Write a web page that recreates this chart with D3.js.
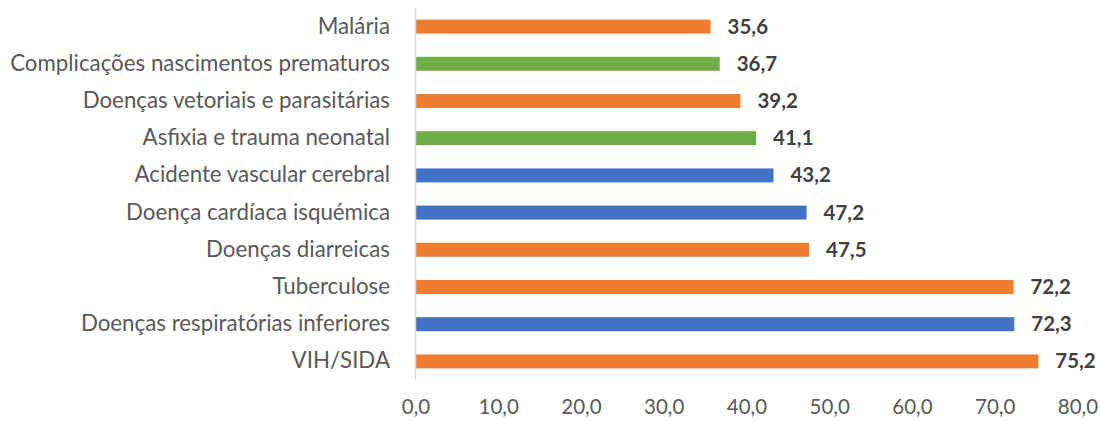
<!DOCTYPE html>
<html>
<head>
<meta charset="utf-8">
<script src="https://cdn.jsdelivr.net/npm/d3@7"></script>
<style>
  body { margin: 0; background: #fff; }
  text { font-family: Lato, "Open Sans", sans-serif; }
</style>
</head>
<body>
<script>
// categories from top to bottom
const causes = ['Malária', 'Complicações nascimentos prematuros', 'Doenças vetoriais e parasitárias',
  'Asfixia e trauma neonatal', 'Acidente vascular cerebral', 'Doença cardíaca isquémica',
  'Doenças diarreicas', 'Tuberculose', 'Doenças respiratórias inferiores', 'VIH/SIDA'];
const values = [35.6, 36.7, 39.2, 41.1, 43.2, 47.2, 47.5, 72.2, 72.3, 75.2];
const groups = ['inf', 'neo', 'inf', 'neo', 'ncd', 'ncd', 'inf', 'inf', 'ncd', 'inf'];
const tickValues = [0, 10, 20, 30, 40, 50, 60, 70, 80];

const colors = { inf: '#ED7D31', neo: '#70AD47', ncd: '#4472C4' };

const width = 1100, height = 421;

const svg = d3.select('body').append('svg')
    .attr('width', width)
    .attr('height', height);

const x = d3.scaleLinear()
    .domain([0, 80])
    .range([416, 1078]);

const y = d3.scaleBand()
    .domain(causes)
    .range([8, 380])
    .paddingInner(0.624)
    .paddingOuter(0.312);

// bars
svg.selectAll('rect')
    .data(causes)
    .enter()
  .append('rect')
    .attr('x', x(0))
    .attr('y', d => y(d))
    .attr('width', (d, i) => x(values[i]) - x(0))
    .attr('height', y.bandwidth())
    .attr('fill', (d, i) => colors[groups[i]]);

// value labels
svg.selectAll('.val')
    .data(causes)
    .enter()
  .append('text')
    .attr('class', 'val')
    .attr('x', (d, i) => x(values[i]) + 17)
    .attr('y', d => y(d) + y.bandwidth() / 2 + 7)
    .style('font-size', '20.5px')
    .style('font-weight', 'bold')
    .style('fill', '#404040')
    .text((d, i) => values[i].toFixed(1).replace('.', ','));

// category labels
svg.selectAll('.cat')
    .data(causes)
    .enter()
  .append('text')
    .attr('class', 'cat')
    .attr('x', 390)
    .attr('y', d => y(d) + y.bandwidth() / 2 + 7)
    .attr('text-anchor', 'end')
    .style('font-size', '22.3px')
    .style('fill', '#595959')
    .text(d => d);

// x tick labels
svg.selectAll('.tick-label')
    .data(tickValues)
    .enter()
  .append('text')
    .attr('class', 'tick-label')
    .attr('x', d => x(d))
    .attr('y', 414)
    .attr('text-anchor', 'middle')
    .style('font-size', '20.5px')
    .style('fill', '#595959')
    .text(d => d.toFixed(1).replace('.', ','));

// vertical axis line
svg.append('line')
    .attr('x1', x(0) - 0.5)
    .attr('x2', x(0) - 0.5)
    .attr('y1', 8)
    .attr('y2', 380)
    .attr('stroke', '#d9d9d9')
    .attr('stroke-width', 1.5);
</script>
</body>
</html>
